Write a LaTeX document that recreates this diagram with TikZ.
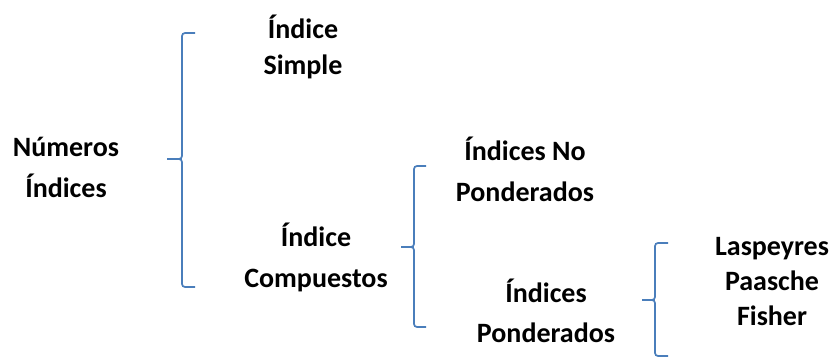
\documentclass[tikz,border=0pt]{standalone}
\usepackage{fontspec}
\setmainfont{Carlito}[BoldFont={Carlito Bold}]
\usetikzlibrary{positioning}
\definecolor{braceBlue}{RGB}{74,126,187}
\tikzset{
  term/.style={align=center, inner sep=0pt, anchor=base, font=\bfseries\fontsize{28}{40}\selectfont},
  tightTerm/.style={term, font=\bfseries\fontsize{28}{35}\selectfont},
%  boxedTerm/.style={term, draw},
  braceLine/.style={draw=braceBlue, line width=1.7pt, rounded corners=3pt}
}

\begin{document}
\begin{tikzpicture}[x=1pt, y=-1pt]
      \useasboundingbox (0,0) rectangle (835,358);
      % terms (anchored at the baseline of the last line)
      \node [term] (numeros) at (66,197) {Números\\Índices};
      \node [term, font=\bfseries\fontsize{28}{36}\selectfont] (simple) at (303,75) {Índice\\Simple};
      \node [term] (compuestos) at (316,287) {Índice\\Compuestos};
      \node [term] (noPonderados) at (525,201) {Índices No\\Ponderados};
      \node [term] (ponderados) at (546,342) {Índices\\Ponderados};
      \node [tightTerm] (metodos) at (772,325) {Laspeyres\\Paasche\\Fisher};
      % braces
      \coordinate (tipA) at (167,159);
      \coordinate (topA) at (195,33);
      \coordinate (botA) at (195,287);
      \draw [braceLine] (topA) -| ([xshift=15pt]tipA) -- (tipA)
        (tipA) -- ([xshift=15pt]tipA) |- (botA);
      \coordinate (tipB) at (401,247);
      \coordinate (topB) at (426,166);
      \coordinate (botB) at (426,327);
      \draw [braceLine] (topB) -| ([xshift=13pt]tipB) -- (tipB)
        (tipB) -- ([xshift=13pt]tipB) |- (botB);
      \coordinate (tipC) at (642,300);
      \coordinate (topC) at (668,243);
      \coordinate (botC) at (668,356);
      \draw [braceLine] (topC) -| ([xshift=13pt]tipC) -- (tipC)
        (tipC) -- ([xshift=13pt]tipC) |- (botC);
\end{tikzpicture}
\end{document}
